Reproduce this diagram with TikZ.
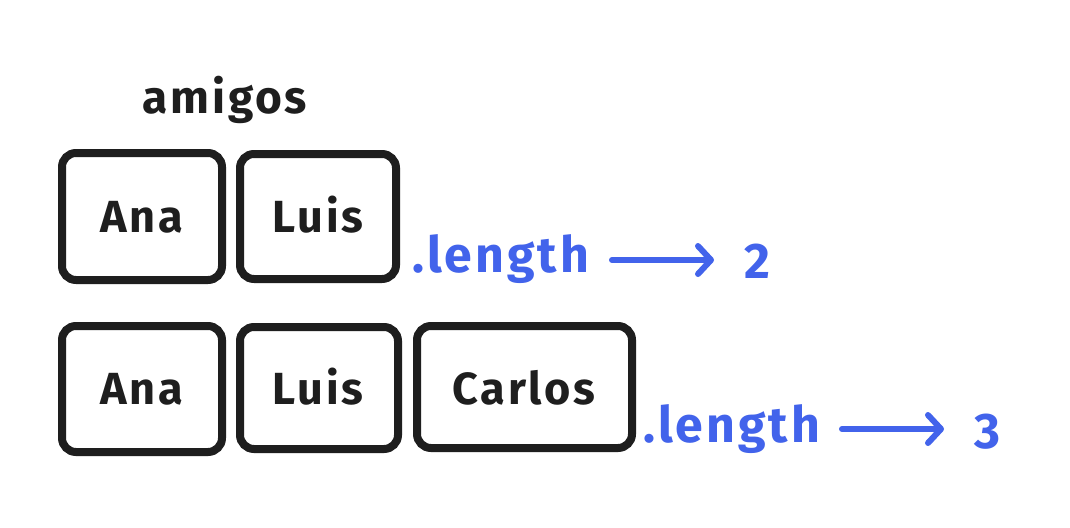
\documentclass[tikz,border=0pt]{standalone}
\usepackage{fontspec}
\setmainfont{Fira Sans}[LetterSpace=6]
\usetikzlibrary{arrows.meta}
\definecolor{ink}{HTML}{1E1E1E}
\definecolor{azul}{HTML}{4263EB}
\tikzset{
  cell/.style={draw=ink, line width=8pt, rounded corners=14pt, fill=white},
  celltext/.style={text=ink, font=\bfseries\fontsize{45}{50}\selectfont, anchor=base},
  bluetext/.style={text=azul, font=\bfseries\fontsize{50}{60}\selectfont, anchor=base, inner sep=0pt},
  arr/.style={draw=azul, line width=6pt, line cap=round, -{Straight Barb[length=13pt, width=28pt, line width=6pt, round]}},
}
\begin{document}
\begin{tikzpicture}[x=1pt,y=-1pt]
\useasboundingbox[fill=white] (0,0) rectangle (1070,527);
% title
\node[text=ink, font=\bfseries\fontsize{46}{50}\selectfont, anchor=base] (title) at (225,113) {amigos};
% row 1
\draw[cell] (62,153) rectangle (222,280);
\draw[cell] (240,154) rectangle (396,279);
\node[celltext] (a1) at (142,232) {Ana};
\node[celltext] (l1) at (318,232) {Luis};
\node[bluetext, anchor=base west] (len1) at (412,272) {.length};
\coordinate (s1) at (612,260);
\coordinate (e1) at (714,260);
\draw[arr] (s1) -- (e1);
\node[bluetext, anchor=base] (n1) at (757,278) {2};
% row 2
\draw[cell] (62,326) rectangle (222,452);
\draw[cell] (240,327) rectangle (398,449);
\draw[cell] (417,326) rectangle (632,448);
\node[celltext] (a2) at (142,404) {Ana};
\node[celltext] (l2) at (318,404) {Luis};
\node[celltext] (c2) at (524,404) {Carlos};
\node[bluetext, anchor=base west] (len2) at (643,442) {.length};
\coordinate (s2) at (842,429);
\coordinate (e2) at (944,429);
\draw[arr] (s2) -- (e2);
\node[bluetext, anchor=base] (n2) at (987,448) {3};
\end{tikzpicture}
\end{document}
